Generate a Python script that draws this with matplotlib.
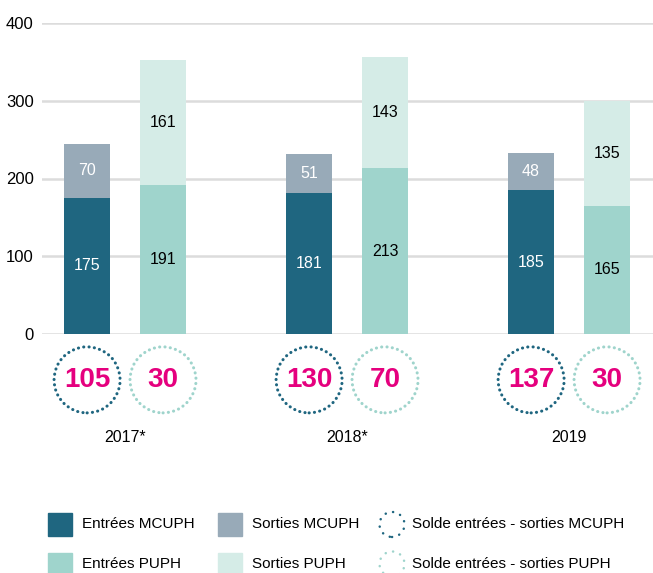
import numpy as np
import matplotlib.pyplot as plt
from matplotlib.patches import Rectangle

plt.rcParams['font.family'] = ['Liberation Sans', 'DejaVu Sans']

years = ['2017*', '2018*', '2019']
entrees_mcuph = [175, 181, 185]
sorties_mcuph = [70, 51, 48]
entrees_puph = [191, 213, 165]
sorties_puph = [161, 143, 135]
solde_mcuph = [105, 130, 137]
solde_puph = [30, 70, 30]

c_ent_mc = '#1f6680'
c_sor_mc = '#98aab8'
c_ent_pu = '#9fd4cc'
c_sor_pu = '#d5ece7'
c_solde = '#e5007e'

W, H = 653, 573
fig = plt.figure(figsize=(W / 100, H / 100), dpi=100)
ax = fig.add_axes([42 / W, 1 - 334 / H, 1 - 42 / W, (334 - 23) / H])

x = np.arange(len(years))
off = 0.171
bw = 0.207

b1 = ax.bar(x - off, entrees_mcuph, bw, color=c_ent_mc, zorder=3)
b2 = ax.bar(x - off, sorties_mcuph, bw, bottom=entrees_mcuph, color=c_sor_mc, zorder=3)
b3 = ax.bar(x + off, entrees_puph, bw, color=c_ent_pu, zorder=3)
b4 = ax.bar(x + off, sorties_puph, bw, bottom=entrees_puph, color=c_sor_pu, zorder=3)

ax.bar_label(b1, label_type='center', color='white', fontsize=11.5)
ax.bar_label(b2, label_type='center', color='white', fontsize=11.5)
ax.bar_label(b3, label_type='center', color='black', fontsize=11.5)
ax.bar_label(b4, label_type='center', color='black', fontsize=11.5)

ax.set_xlim(-0.374, 2.378)
ax.set_ylim(0, 400)
ax.set_yticks([0, 100, 200, 300, 400])
ax.set_xticks([])
ax.grid(axis='y', color='#dcdcdc', linewidth=1.8, zorder=0)
for s in ax.spines.values():
    s.set_visible(False)
ax.tick_params(axis='y', length=0, labelsize=12, pad=6)

# solde circles below the bars
cy = -59
for xs, vals, col in [(x - off, solde_mcuph, c_ent_mc), (x + off, solde_puph, c_ent_pu)]:
    sc = ax.scatter(xs, [cy] * len(xs), s=66 ** 2 * 0.72 ** 2, facecolors='none',
                    edgecolors=col, linewidths=2.2, linestyle=(0, (0.05, 1.7)), clip_on=False)
    sc.set_capstyle('round')
    for xi, v in zip(xs, vals):
        ax.text(xi, cy, str(v), ha='center', va='center', color=c_solde,
                fontsize=20, fontweight='bold', clip_on=False)

for xi, yr in zip(x, years):
    ax.text(xi, -133, yr, ha='center', va='center', fontsize=11.5, clip_on=False)

# legend
lg = fig.add_axes([0, 0, 1, 1], zorder=-1)
lg.set_xlim(0, W)
lg.set_ylim(H, 0)
lg.axis('off')
items = [
    (48, 524.5, 'sq', c_ent_mc, 'Entrées MCUPH'),
    (218, 524.5, 'sq', c_sor_mc, 'Sorties MCUPH'),
    (380, 524.5, 'ci', c_ent_mc, 'Solde entrées - sorties MCUPH'),
    (48, 564, 'sq', c_ent_pu, 'Entrées PUPH'),
    (218, 564, 'sq', c_sor_pu, 'Sorties PUPH'),
    (380, 564, 'ci', c_ent_pu, 'Solde entrées - sorties PUPH'),
]
for lx, ly, kind, col, lab in items:
    if kind == 'sq':
        lg.add_patch(Rectangle((lx, ly - 11.5), 24, 23, color=col))
        lg.text(lx + 34, ly, lab, va='center', ha='left', fontsize=11)
    else:
        sc = lg.scatter([lx + 12], [ly], s=(25 * 0.72) ** 2, facecolors='none',
                        edgecolors=col, linewidths=1.8, linestyle=(0, (0.05, 3.0)))
        sc.set_capstyle('round')
        lg.text(lx + 32, ly, lab, va='center', ha='left', fontsize=11)

fig.savefig('out.png', dpi=100)
